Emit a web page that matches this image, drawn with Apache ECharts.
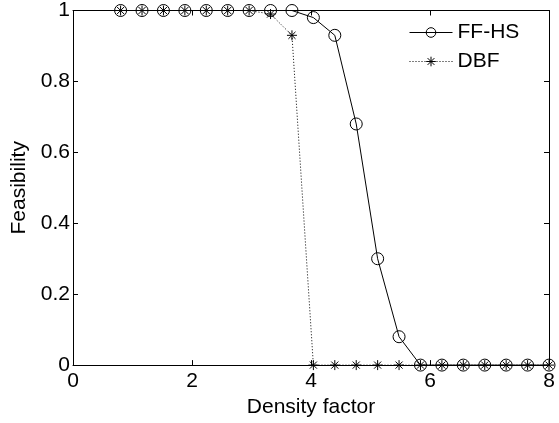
<!DOCTYPE html>
<html>
<head>
<meta charset="utf-8">
<script src="https://cdn.jsdelivr.net/npm/echarts@6/dist/echarts.min.js"></script>
<style>
html,body{margin:0;padding:0;background:#fff;}
#c{width:559px;height:423px;}
</style>
</head>
<body>
<div id="c"></div>
<script>
const densityFactor = [0.8, 1.16, 1.52, 1.88, 2.24, 2.6, 2.96, 3.32, 3.68, 4.04, 4.4, 4.76, 5.12, 5.48, 5.84, 6.2, 6.56, 6.92, 7.28, 7.64, 8.0];
const ffhs = [1, 1, 1, 1, 1, 1, 1, 1, 1, 0.98, 0.93, 0.68, 0.30, 0.08, 0, 0, 0, 0, 0, 0, 0];
const dbf  = [1, 1, 1, 1, 1, 1, 1, 0.99, 0.93, 0, 0, 0, 0, 0, 0, 0, 0, 0, 0, 0, 0];
const xTicks = [0, 2, 4, 6, 8];
const yTicks = [0, 0.2, 0.4, 0.6, 0.8, 1];
const seriesNames = ['FF-HS', 'DBF'];

const FONT = 'Liberation Sans, Arial, Helvetica, sans-serif';
const asterisk = 'path://M5,0 L5,10 M0,5 L10,5 M1.46,1.46 L8.54,8.54 M1.46,8.54 L8.54,1.46';

function pairs(xs, ys) { return xs.map((x, i) => [x, ys[i]]); }

const chart = echarts.init(document.getElementById('c'), null, {renderer: 'canvas'});
const axisCommon = {
  axisLine: {show: true, onZero: false, lineStyle: {color: '#000', width: 1}},
  axisTick: {show: true, inside: true, length: 5, lineStyle: {color: '#000'}},
  splitLine: {show: false}
};
chart.setOption({
  animation: false,
  backgroundColor: '#fff',
  grid: {left: 73, right: 10, top: 7, bottom: 54, containLabel: false},
  legend: {
    data: seriesNames,
    orient: 'vertical',
    left: 404, top: 17,
    padding: 5,
    itemWidth: 43, itemHeight: 12, itemGap: 8,
    lineStyle: {width: 1},
    itemStyle: {borderWidth: 1, color: 'rgba(0,0,0,0)', borderColor: '#000'},
    textStyle: {fontFamily: FONT, fontSize: 21, color: '#000'},
    inactiveColor: '#000'
  },
  xAxis: [
    Object.assign({}, axisCommon, {
      type: 'value', min: xTicks[0], max: xTicks[xTicks.length - 1], interval: 2,
      position: 'bottom',
      name: 'Density factor', nameLocation: 'middle', nameGap: 27,
      nameTextStyle: {fontFamily: FONT, fontSize: 21, color: '#000'},
      axisLabel: {fontFamily: FONT, fontSize: 21, color: '#000', margin: 6}
    }),
    Object.assign({}, axisCommon, {
      type: 'value', min: 0, max: 8, interval: 2, position: 'top',
      axisLabel: {show: false}
    })
  ],
  yAxis: [
    Object.assign({}, axisCommon, {
      type: 'value', min: yTicks[0], max: yTicks[yTicks.length - 1], interval: 0.2,
      position: 'left',
      name: 'Feasibility', nameLocation: 'middle', nameGap: 37,
      nameTextStyle: {fontFamily: FONT, fontSize: 21, color: '#000'},
      axisLabel: {fontFamily: FONT, fontSize: 21, color: '#000', margin: 3,
        formatter: v => (v === 0 || v === 1) ? String(v) : v.toFixed(1)}
    }),
    Object.assign({}, axisCommon, {
      type: 'value', min: 0, max: 1, interval: 0.2, position: 'right',
      axisLabel: {show: false}
    })
  ],
  series: [
    {
      name: seriesNames[0], type: 'line', xAxisIndex: 0, yAxisIndex: 0,
      data: pairs(densityFactor, ffhs),
      symbol: 'circle', symbolSize: 12,
      itemStyle: {color: 'rgba(0,0,0,0)', borderColor: '#000', borderWidth: 1},
      lineStyle: {color: '#000', width: 1, type: 'solid'},
      z: 3
    },
    {
      name: seriesNames[1], type: 'line', xAxisIndex: 0, yAxisIndex: 0,
      data: pairs(densityFactor, dbf),
      symbol: asterisk, symbolSize: 10,
      itemStyle: {color: 'rgba(0,0,0,0)', borderColor: '#000', borderWidth: 1},
      lineStyle: {color: '#000', width: 1, type: [1, 2]},
      z: 2
    }
  ]
});
</script>
</body>
</html>
